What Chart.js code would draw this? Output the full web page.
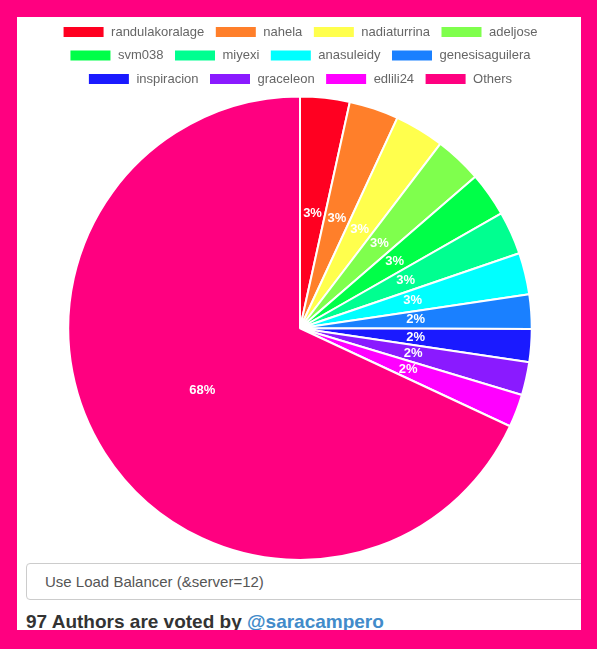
<!DOCTYPE html>
<html lang="en">
<head>
    <meta charset="UTF-8">
    <title>Authors voted</title>
    <script src="https://cdn.jsdelivr.net/npm/chart.js"></script>
    <style>
        html, body { margin: 0; padding: 0; }
        body { background: #ff0080; width: 597px; height: 649px; overflow: hidden; position: relative; }
        .page {
            position: absolute; left: 17px; top: 17px; width: 564px; height: 613px;
            background: #fff; overflow: hidden;
            font-family: "Helvetica Neue", Helvetica, "Liberation Sans", Arial, sans-serif;
        }
        .chart-box { position: absolute; left: 0; top: -2px; width: 566px; height: 546px; }
        .lb-box {
            position: absolute; left: 9px; top: 546px; width: 600px; height: 35px;
            border: 1px solid #ccc; border-radius: 4px; box-sizing: content-box;
            font-size: 15px; color: #555; line-height: 35px; padding-left: 18px;
        }
        .voted {
            position: absolute; left: 9px; top: 594px; font-size: 19px; font-weight: bold; color: #333;
            line-height: 22px;
        }
        .voted a { color: #428bca; text-decoration: none; }
    </style>
</head>
<body>
    <div class="page">
        <div class="chart-box"><canvas id="pie"></canvas></div>
        <div class="lb-box">Use Load Balancer (&amp;server=12)</div>
        <div class="voted">97 Authors are voted by <a href="#">@saracampero</a></div>
    </div>

    <script>
        // authors and their share of votes
        const authors = ['randulakoralage', 'nahela', 'nadiaturrina', 'adeljose',
            'svm038', 'miyexi', 'anasuleidy', 'genesisaguilera',
            'inspiracion', 'graceleon', 'edlili24', 'Others'];
        const votes = [3.45, 3.45, 3.45, 3.3, 3.1, 3.0, 2.9, 2.4, 2.3, 2.3, 2.3, 68.05];
        const colors = ['#ff0021', '#ff7f2a', '#ffff4d', '#7fff4d',
            '#00ff48', '#00ff90', '#00ffff', '#1a80ff',
            '#1a1aff', '#8a1aff', '#ff00ff', '#ff0080'];

        // percent labels drawn at the middle of each slice
        const percentLabels = {
            id: 'percentLabels',
            afterDatasetsDraw(chart) {
                const ctx = chart.ctx;
                const meta = chart.getDatasetMeta(0);
                const total = votes.reduce((a, b) => a + b, 0);
                ctx.save();
                ctx.fillStyle = '#fff';
                ctx.font = 'bold 13px "Helvetica Neue", Helvetica, "Liberation Sans", Arial, sans-serif';
                ctx.textAlign = 'center';
                ctx.textBaseline = 'middle';
                meta.data.forEach((arc, i) => {
                    const pos = arc.tooltipPosition();
                    ctx.fillText(Math.round(votes[i] / total * 100) + '%', pos.x, pos.y);
                });
                ctx.restore();
            }
        };

        new Chart(document.getElementById('pie'), {
            type: 'pie',
            data: {
                labels: authors,
                datasets: [{
                    data: votes,
                    backgroundColor: colors,
                    borderColor: '#fff',
                    borderWidth: 2
                }]
            },
            options: {
                responsive: true,
                maintainAspectRatio: false,
                animation: false,
                plugins: {
                    legend: {
                        position: 'top',
                        labels: {
                            boxWidth: 42,
                            boxHeight: 12,
                            padding: 10.5,
                            color: '#666',
                            font: { size: 13, family: '"Helvetica Neue", Helvetica, "Liberation Sans", Arial, sans-serif' }
                        }
                    },
                    tooltip: { enabled: false }
                }
            },
            plugins: [percentLabels]
        });
    </script>
</body>
</html>
